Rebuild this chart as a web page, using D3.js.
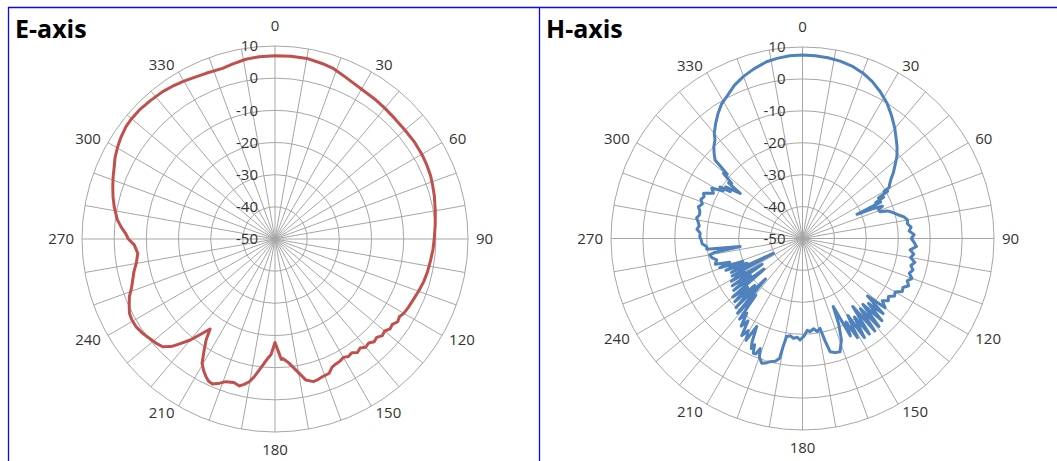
<!DOCTYPE html>
<html>
<head>
<meta charset="utf-8">
<script src="https://cdn.jsdelivr.net/npm/d3@7"></script>
<style>
  body { margin: 0; background: #fff; }
  svg { display: block; }
</style>
</head>
<body>
<svg width="1057" height="461"></svg>
<script>
// angle (deg, clockwise from top) , gain (dB)
var eAxisGain = [
  [0,7.0],[5,7.0],[10,7.0],[15,6.5],[19,6.0],[23,5.0],[27,4.2],[31,3.7],[36,3.4],[40,3.1],
  [45,2.8],[50,2.7],[55,2.8],[60,2.7],[64,2.5],[68,2.2],[71,1.8],[75,1.3],[80,0.6],[85,0.0],
  [90,-0.5],[94,-0.8],[98,-1.2],[102,-1.5],[106,-1.9],[110,-2.5],[114,-3.1],[117,-3.4],
  [120,-3.8],[122,-4.4],[124,-4.0],[126,-4.9],[128,-4.6],[130,-5.5],[132,-5.1],[134,-6.0],
  [136,-5.6],[138,-6.5],[140,-6.1],[142,-7.0],[144,-6.4],[146,-7.3],[148,-6.9],[150,-7.5],
  [152,-7.0],[154,-6.8],[156,-6.4],[158,-5.0],[161,-4.7],[163,-4.3],[165,-4.1],[167.6,-5.1],
  [171,-8.8],[174,-11.5],[176.3,-12.8],[177,-12.5],[178,-14.5],[180,-17.8],[182,-14.0],
  [183.5,-12.8],[186.8,-9.0],[188.5,-6.8],[190.2,-4.9],[192,-3.8],[193.6,-3.0],[196,-3.6],
  [199,-3.1],[201,-2.0],[203.3,-0.9],[205,-1.2],[206.6,-2.1],[208.5,-3.5],[210.4,-5.2],
  [212.5,-9.0],[214.3,-12.0],[215.8,-15.5],[218.2,-12.0],[220,-9.0],[222.3,-5.9],[224,-3.5],
  [226.2,-1.6],[229,-0.8],[231.7,-0.2],[234.5,0.5],[237.8,1.1],[240.5,1.1],[243,0.8],
  [245.5,-0.2],[248.4,-1.3],[251,-2.8],[254,-4.0],[257,-5.0],[260,-6.2],[264,-7.1],
  [267.6,-6.2],[270,-4.4],[272,-3.6],[274.5,-2.0],[277,-0.6],[281.4,1.0],[284.5,2.0],
  [287.9,3.0],[291,3.9],[294.2,4.8],[297,5.8],[300.4,6.7],[303.5,7.4],[307,8.0],[310,8.2],
  [313.6,8.2],[318,7.9],[322.7,7.6],[326,7.2],[329.6,6.7],[333,6.2],[337.4,5.8],[342.9,5.5],
  [346.5,6.0],[350.8,6.6],[355,6.9]
];

var hAxisGain = [
  [0,7.5],[4,7.4],[8,7.2],[12,6.8],[16,6.2],[20,5.2],[24,3.8],[28,2.0],[32,0.0],[36,-2.5],
  [40,-5.0],[43,-7.0],[46,-8.8],[49,-10.8],[52,-13.3],[54,-14.8],[56,-16.5],[58,-17.8],
  [59.5,-18.5],[60,-20.5],[61,-19.5],[62,-23.0],[63,-21.5],[64,-24.5],[65,-23.0],[66,-31.3],
  [67,-26.0],[68,-23.0],[69,-24.5],[70.9,-24.3],[72,-22.0],[74,-20.5],[76,-19.2],[78,-17.5],
  [80,-16.6],[82,-16.8],[84,-15.8],[86,-16.5],[88,-15.0],[90,-15.9],[92,-15.0],[94,-14.2],
  [96,-16.1],[98,-14.8],[100,-15.6],[102,-14.0],[104,-15.0],[106,-14.0],[108,-14.8],
  [110,-13.5],[112,-14.6],[114,-13.6],[116,-15.0],[118,-14.6],[120,-16.5],[122,-16.0],
  [124,-17.5],[126,-16.8],[128,-18.3],[130,-16.2],[131.5,-22.8],[133,-15.5],[134.5,-21.0],
  [136,-14.2],[137.5,-22.0],[139,-13.5],[140.5,-21.5],[142,-13.2],[143.5,-23.5],[145,-13.5],
  [146.5,-20.5],[148,-13.4],[149.5,-22.0],[151,-14.5],[152.5,-20.5],[153.8,-16.0],
  [155.7,-26.6],[157,-21.0],[159,-16.0],[161.7,-12.6],[164,-12.8],[166.3,-13.5],[167.5,-17.0],
  [169,-21.3],[171,-20.5],[173,-21.5],[175.4,-20.7],[177,-21.2],[179,-19.5],[181.4,-18.2],
  [183,-19.0],[185.2,-18.6],[187,-19.3],[189.2,-18.9],[190.2,-15.5],[190.8,-11.8],
  [192.5,-10.6],[194.8,-10.1],[196.5,-9.3],[198.1,-8.9],[200,-10.5],[201,-13.1],[202,-11.0],
  [203.2,-10.9],[204.3,-13.5],[205,-12.0],[206,-14.0],[207.5,-18.9],[209,-13.5],[210.5,-16.5],
  [212,-14.1],[213.5,-19.0],[215,-16.5],[216.7,-20.8],[218,-18.0],[219.5,-27.0],[221,-19.0],
  [222.5,-32.8],[224,-20.0],[225.5,-29.0],[227,-21.0],[228.5,-27.0],[230,-21.5],[231.5,-34.6],
  [233,-23.0],[234.5,-30.0],[236,-23.5],[237.5,-35.0],[239,-24.0],[240.5,-29.0],[242,-25.0],
  [243,-39.7],[244.5,-25.3],[246,-31.0],[247.5,-24.0],[249,-30.0],[250.5,-22.5],[252,-26.0],
  [253.5,-21.5],[256,-22.3],[258,-21.0],[260,-20.5],
  [261,-22.0],[262.6,-30.3],[263.6,-19.8],[265.1,-19.9],[267,-18.5],[269,-18.3],[271,-17.8],
  [273,-17.9],[275,-16.8],[277,-17.4],[279,-16.9],[281,-16.2],[283,-16.9],[285,-16.7],
  [287,-15.9],[289,-16.8],[291,-15.9],[293,-16.5],[294.5,-15.9],[296.9,-18.7],[299,-17.5],
  [301,-21.0],[302,-19.5],[303,-23.0],[304,-21.0],[305,-24.0],[305.9,-25.9],[307,-21.0],
  [307.9,-21.9],[309.5,-17.9],[310.5,-19.0],[311.9,-13.2],[314,-11.5],[316,-10.0],
  [318.4,-8.7],[320,-7.0],[323,-4.8],[326,-2.7],[329,-0.8],[331.9,0.4],[336,2.5],[339.9,4.0],
  [344,5.3],[348.5,6.5],[352,7.0],[356,7.4]
];

var angleTicks = [0, 30, 60, 90, 120, 150, 180, 210, 240, 270, 300, 330];
var ringTicks = [-50, -40, -30, -20, -10, 0, 10];

var svg = d3.select("svg");

// frame lines (blue)
svg.append("path")
  .attr("d", "M8.5,461 V7.5 H1057 M539.5,7.5 V461")
  .attr("fill", "none")
  .attr("stroke", "#0a0af0")
  .attr("stroke-width", 1.3);

function drawPolar(cx, cy, R, data, color, title, titleX) {
  var r = d3.scaleLinear().domain([-50, 10]).range([0, R]);
  var g = svg.append("g").attr("transform", "translate(" + cx + "," + cy + ")");

  // rings
  g.selectAll("circle.ring")
    .data(ringTicks.slice(1))
    .enter().append("circle")
    .attr("class", "ring")
    .attr("r", function(d) { return r(d); })
    .attr("fill", "none")
    .attr("stroke", "#a6a6a6")
    .attr("stroke-width", 1);

  // spokes every 10 deg
  g.selectAll("line.spoke")
    .data(d3.range(0, 360, 10))
    .enter().append("line")
    .attr("class", "spoke")
    .attr("x1", 0).attr("y1", 0)
    .attr("x2", function(d) { return R * Math.sin(d * Math.PI / 180); })
    .attr("y2", function(d) { return -R * Math.cos(d * Math.PI / 180); })
    .attr("stroke", "#a6a6a6")
    .attr("stroke-width", 1);

  // angle labels
  g.selectAll("text.ang")
    .data(angleTicks)
    .enter().append("text")
    .attr("class", "ang")
    .attr("x", function(d) { return (R + 8) * Math.sin(d * Math.PI / 180); })
    .attr("y", function(d) {
      var c = Math.cos(d * Math.PI / 180);
      var y = -(R + 8) * c;
      if (c > 0.99) return y - 7;
      if (c < -0.99) return y + 15;
      return y;
    })
    .attr("dy", function(d) { return Math.abs(Math.cos(d * Math.PI / 180)) > 0.99 ? 0 : "0.35em"; })
    .attr("text-anchor", function(d) {
      var s = Math.sin(d * Math.PI / 180);
      return s > 0.1 ? "start" : (s < -0.1 ? "end" : "middle");
    })
    .attr("font-family", "'Open Sans', sans-serif")
    .attr("font-size", 15)
    .attr("fill", "#333")
    .text(function(d) { return d; });

  // radial labels
  g.selectAll("text.rad")
    .data(ringTicks)
    .enter().append("text")
    .attr("class", "rad")
    .attr("x", -17)
    .attr("y", function(d) { return -r(d); })
    .attr("dy", "0.35em")
    .attr("text-anchor", "end")
    .attr("font-family", "'Open Sans', sans-serif")
    .attr("font-size", 15)
    .attr("fill", "#333")
    .text(function(d) { return d; });

  var line = d3.lineRadial()
    .angle(function(d) { return d[0] * Math.PI / 180; })
    .radius(function(d) { return r(d[1]); })
    .curve(d3.curveLinearClosed);

  g.append("path")
    .datum(data)
    .attr("d", line)
    .attr("fill", "none")
    .attr("stroke", color)
    .attr("stroke-width", 3)
    .attr("stroke-linejoin", "round");

  svg.append("text")
    .attr("x", titleX)
    .attr("y", 38)
    .attr("font-family", "'Open Sans', sans-serif")
    .attr("font-weight", "bold")
    .attr("font-size", 25)
    .attr("fill", "#000")
    .text(title);
}

drawPolar(275, 239, 193, eAxisGain, "#c0504d", "E-axis", 15);
drawPolar(802.5, 238.5, 191.5, hAxisGain, "#4f81bd", "H-axis", 546);
</script>
</body>
</html>
